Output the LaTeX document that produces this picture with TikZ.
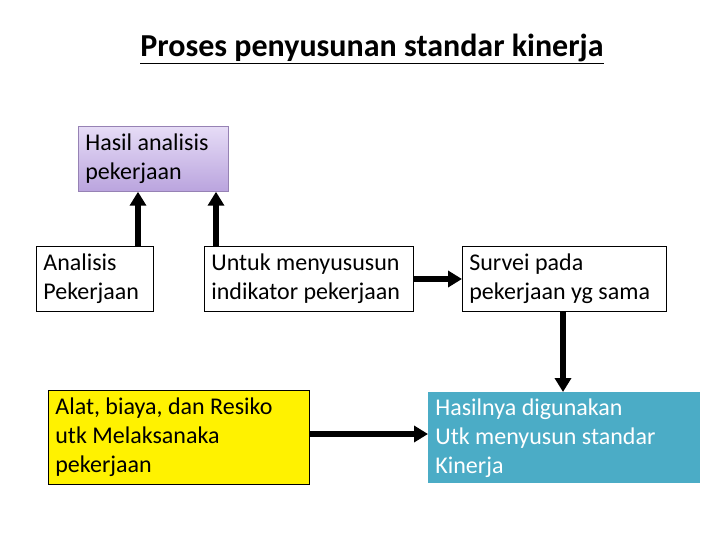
\documentclass[tikz,border=0pt]{standalone}
\usepackage{fontspec}
\setmainfont{Carlito}
\usetikzlibrary{arrows.meta,calc}
\definecolor{lavtop}{RGB}{230,220,246}
\definecolor{lavbot}{RGB}{186,164,222}
\definecolor{lavline}{RGB}{150,130,180}
\definecolor{tealbox}{RGB}{75,172,198}
\tikzset{every picture/.style={line width=0.75pt}}
\tikzset{
  kotak/.style={draw, rectangle, anchor=north west, align=flush left, inner xsep=7pt,
    inner ysep=0pt, font=\fontsize{24}{29}\selectfont},
  panah/.style={line width=6pt, -{Triangle[length=14pt,width=16pt]}}
}

\begin{document}
\begin{tikzpicture}[x=1pt,y=-1pt]
    \useasboundingbox (0,0) rectangle (720,540);
    \node[font=\bfseries\fontsize{32}{38}\selectfont] (judul) at (372,49) {\underline{Proses penyusunan standar kinerja}};
    \node[kotak, draw=lavline, top color=lavtop, bottom color=lavbot,
      text width=136pt, minimum height=65pt] (hasil) at (78,126) {Hasil analisis\\pekerjaan};
    \node[kotak, text width=103pt, minimum height=65pt] (ap) at (36,246) {Analisis\\Pekerjaan};
    \node[kotak, text width=195pt, minimum height=65pt] (untuk) at (204,246) {Untuk menyususun\\indikator pekerjaan};
    \node[kotak, text width=190pt, minimum height=65pt] (survei) at (462,246) {Survei pada\\pekerjaan yg sama};
    \node[kotak, fill=yellow, text width=247pt, minimum height=94pt] (alat) at (48,390) {Alat, biaya, dan Resiko\\utk Melaksanaka\\pekerjaan};
    \node[kotak, draw=none, fill=tealbox, text=white, text width=258pt, minimum height=91pt] (hasilnya) at (428,392) {Hasilnya digunakan\\Utk menyusun standar\\Kinerja};
    % panah
    \draw[panah] (ap.north -| 138,0) -- (hasil.south -| 138,0);
    \draw[panah] (untuk.north -| 216,0) -- (hasil.south -| 216,0);
    \draw[panah] (untuk.east |- 0,279) -- (survei.west |- 0,279);
    \draw[panah] (survei.south -| 563,0) -- (hasilnya.north -| 563,0);
    \draw[panah] (alat.east |- 0,434) -- (hasilnya.west |- 0,434);
\end{tikzpicture}
\end{document}
